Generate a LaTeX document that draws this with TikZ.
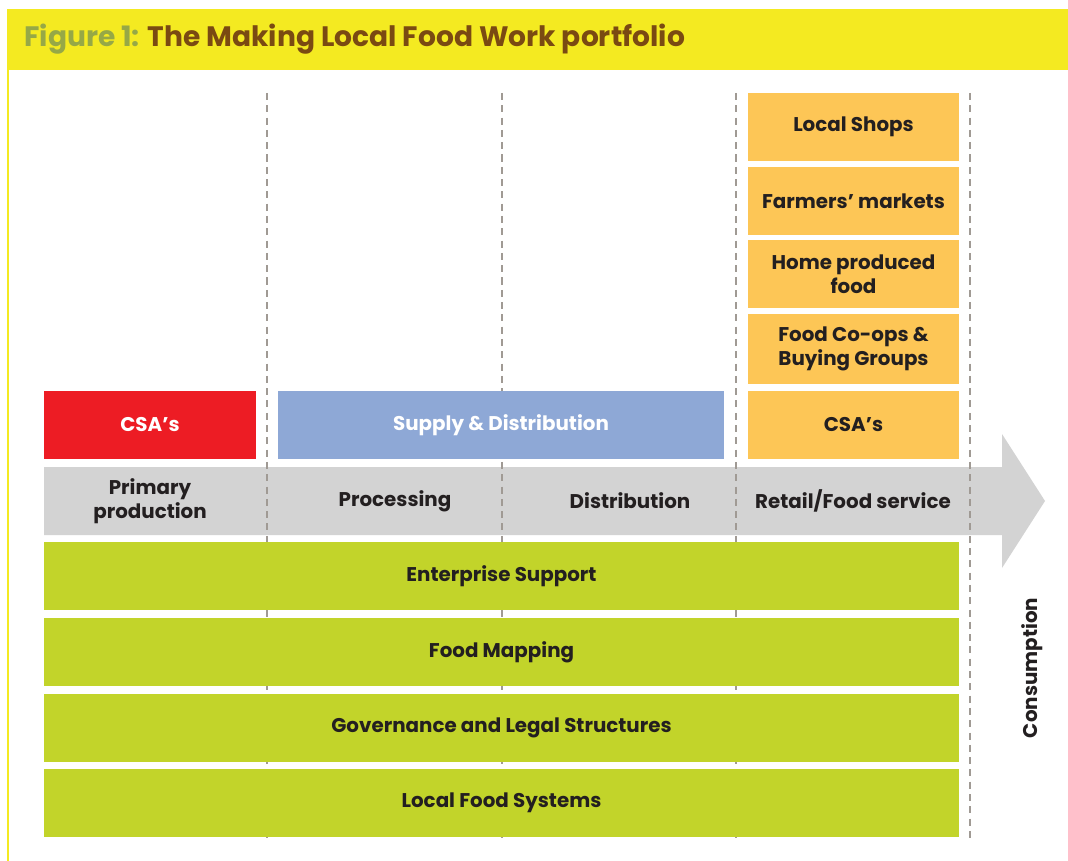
\documentclass[tikz,border=0pt]{standalone}
\usepackage{fontspec}
\setmainfont{Poppins}
\usepackage{tikz}

\definecolor{titleyellow}{RGB}{244,234,33}
\definecolor{figgreen}{RGB}{150,168,70}
\definecolor{titlebrown}{RGB}{122,74,18}
\definecolor{csared}{RGB}{237,28,36}
\definecolor{supplyblue}{RGB}{142,168,214}
\definecolor{retailorange}{RGB}{253,198,86}
\definecolor{bandgray}{RGB}{211,211,211}
\definecolor{barlime}{RGB}{194,212,42}
\definecolor{dashgray}{RGB}{160,154,148}
\definecolor{labelink}{RGB}{35,31,32}

\tikzset{
  box/.style={rectangle, inner sep=0pt, minimum height=1.36cm, align=center,
    font=\bfseries\fontsize{11.3}{13.5}\selectfont, text=labelink},
  stage/.style={inner sep=0pt, align=center, font=\bfseries\fontsize{11.3}{13.5}\selectfont, text=labelink},
}

\begin{document}
\begin{tikzpicture}[x=0.02cm,y=-0.02cm]
        \useasboundingbox (0,0) rectangle (1068,861);

        % Title bar
        \fill[titleyellow] (7,9) rectangle (1068,70);
        \fill[titleyellow] (7,70) rectangle (9,861);
        \node[anchor=west, inner sep=0pt, font=\bfseries\fontsize{16}{18}\selectfont] (title) at (24,39)
          {\textcolor{figgreen}{Figure 1:} \textcolor{titlebrown}{The Making Local Food Work portfolio}};

        % Supply chain arrow
        \fill[bandgray] (44,467) -- (1002,467) -- (1002,434) -- (1045,501) -- (1002,568) -- (1002,535) -- (44,535) -- cycle;

        % Stage dividers
        \foreach \X in {267,502,736,970}{
        \draw[dashgray, line width=1.3pt, dash pattern=on 4pt off 3pt] (\X,93) -- (\X,838);
        }

        % Stages
        \node[stage] (primary) at (150,501) {Primary\\production};
        \node[stage] (processing) at (395,501) {Processing};
        \node[stage] (distribution) at (630,501) {Distribution};
        \node[stage] (retail) at (853,501) {Retail/Food service};

        % Projects above the chain
        \node[box, fill=csared, text=white, minimum width=4.24cm] (csaprod) at (150,425) {CSA’s};
        \node[box, fill=supplyblue, text=white, minimum width=8.92cm] (supply) at (501,425) {Supply \& Distribution};
        \node[box, fill=retailorange, minimum width=4.22cm] (shops) at (853.5,127) {Local Shops};
        \node[box, fill=retailorange, minimum width=4.22cm] (markets) at (853.5,201) {Farmers’ markets};
        \node[box, fill=retailorange, minimum width=4.22cm] (homefood) at (853.5,274) {Home produced\\food};
        \node[box, fill=retailorange, minimum width=4.22cm, minimum height=1.4cm] (coops) at (853.5,349) {Food Co-ops \&\\Buying Groups};
        \node[box, fill=retailorange, minimum width=4.22cm] (csaretail) at (853.5,425) {CSA’s};

        % Cross-cutting support
        \node[box, fill=barlime, minimum width=18.3cm] (enterprise) at (501.5,576) {Enterprise Support};
        \node[box, fill=barlime, minimum width=18.3cm] (mapping) at (501.5,652) {Food Mapping};
        \node[box, fill=barlime, minimum width=18.3cm] (governance) at (501.5,728) {Governance and Legal Structures};
        \node[box, fill=barlime, minimum width=18.3cm] (systems) at (501.5,803) {Local Food Systems};

        \node[stage, rotate=90] (consumption) at (1032,668) {Consumption};
\end{tikzpicture}
\end{document}
